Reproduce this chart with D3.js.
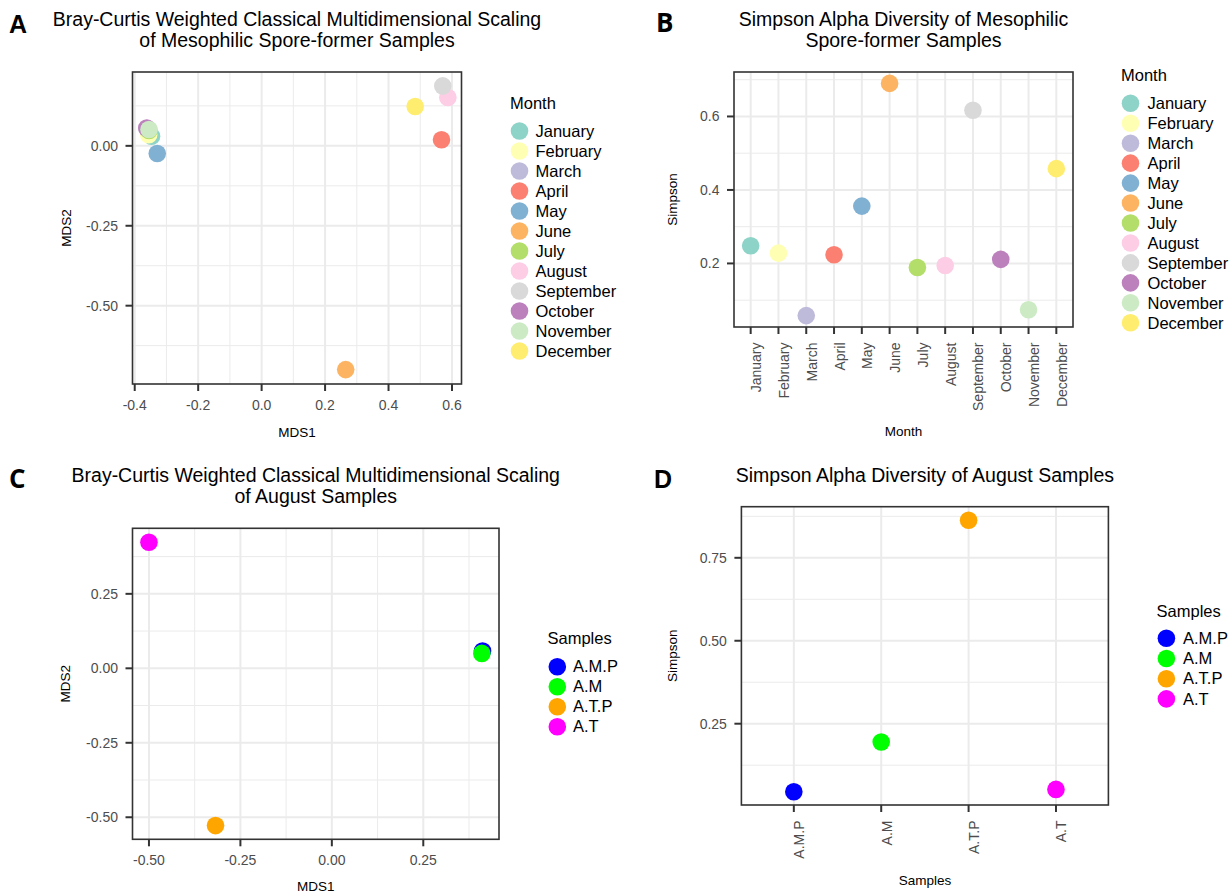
<!DOCTYPE html>
<html><head><meta charset="utf-8">
<script src="https://cdn.jsdelivr.net/npm/d3@7"></script>
<style>
body{margin:0;background:#fff}
svg{display:block}
text{font-family:"Liberation Sans",Arial,Helvetica,sans-serif}
</style>
</head><body>
<svg id="chart" width="1231" height="893"></svg>
<script>
// ---------- DATA ----------
const months = ["January","February","March","April","May","June","July","August","September","October","November","December"];
const monthColors = ["#8DD3C7","#FFFFB3","#BEBADA","#FB8072","#80B1D3","#FDB462","#B3DE69","#FCCDE5","#D9D9D9","#BC80BD","#CCEBC5","#FFED6F"];
const monthMDS1 = [-0.347,-0.356,-0.361,0.567,-0.329,0.265,-0.355,0.587,0.571,-0.362,-0.355,0.484];
const monthMDS2 = [0.030,0.035,0.053,0.019,-0.024,-0.700,0.048,0.151,0.1875,0.056,0.051,0.123];
const monthSimpson = [0.248,0.228,0.058,0.2235,0.356,0.690,0.189,0.1945,0.617,0.211,0.074,0.458];

const samples = ["A.M.P","A.M","A.T.P","A.T"];
const sampleColors = ["#0000FF","#00FF00","#FFA500","#FF00FF"];
const sampleMDS1 = [0.412,0.410,-0.318,-0.500];
const sampleMDS2 = [0.058,0.050,-0.528,0.423];
const sampleSimpson = [0.045,0.195,0.863,0.052];

const aXTicks = [-0.4,-0.2,0.0,0.2,0.4,0.6];
const aXTickLabels = ["-0.4","-0.2","0.0","0.2","0.4","0.6"];
const aYTicks = [-0.5,-0.25,0.0];
const aYTickLabels = ["-0.50","-0.25","0.00"];
const bYTicks = [0.2,0.4,0.6];
const bYTickLabels = ["0.2","0.4","0.6"];
const cXTicks = [-0.5,-0.25,0.0,0.25];
const cXTickLabels = ["-0.50","-0.25","0.00","0.25"];
const cYTicks = [-0.5,-0.25,0.0,0.25];
const cYTickLabels = ["-0.50","-0.25","0.00","0.25"];
const dYTicks = [0.25,0.5,0.75];
const dYTickLabels = ["0.25","0.50","0.75"];

// ---------- DRAW ----------
const svg = d3.select("#chart");
const R = 8.8;
const GRID = "#EBEBEB";
const DARK = "#333333";

function minorsFrom(ticks, domain){
  const step = ticks[1]-ticks[0];
  const lo = Math.min(domain[0],domain[1]), hi = Math.max(domain[0],domain[1]);
  const out = [];
  for (let v = ticks[0] - step/2 - step*10; v <= hi + 1e-9; v += step){
    if (v >= lo && v <= hi) out.push(v);
  }
  return out;
}

function panel(cfg){
  const g = svg.append("g");
  const b = cfg.box;
  const x = cfg.x, y = cfg.y;
  // background
  g.append("rect").attr("x",b.l).attr("y",b.t).attr("width",b.r-b.l).attr("height",b.b-b.t).attr("fill","#fff");
  // minor grid
  if (cfg.xMinor) g.selectAll(null).data(cfg.xMinor).enter().append("line")
    .attr("x1",d=>x(d)).attr("x2",d=>x(d)).attr("y1",b.t).attr("y2",b.b)
    .attr("stroke",GRID).attr("stroke-width",1);
  if (cfg.yMinor) g.selectAll(null).data(cfg.yMinor).enter().append("line")
    .attr("y1",d=>y(d)).attr("y2",d=>y(d)).attr("x1",b.l).attr("x2",b.r)
    .attr("stroke",GRID).attr("stroke-width",1);
  // major grid
  g.selectAll(null).data(cfg.xTicks).enter().append("line")
    .attr("x1",d=>x(d)).attr("x2",d=>x(d)).attr("y1",b.t).attr("y2",b.b)
    .attr("stroke",GRID).attr("stroke-width",2);
  g.selectAll(null).data(cfg.yTicks).enter().append("line")
    .attr("y1",d=>y(d)).attr("y2",d=>y(d)).attr("x1",b.l).attr("x2",b.r)
    .attr("stroke",GRID).attr("stroke-width",2);
  // points
  g.selectAll(null).data(cfg.points).enter().append("circle")
    .attr("cx",d=>x(d.x)).attr("cy",d=>y(d.y)).attr("r",R).attr("fill",d=>d.c);
  // border
  g.append("rect").attr("x",b.l).attr("y",b.t).attr("width",b.r-b.l).attr("height",b.b-b.t)
    .attr("fill","none").attr("stroke",DARK).attr("stroke-width",1.6);
  // ticks
  g.selectAll(null).data(cfg.xTicks).enter().append("line")
    .attr("x1",d=>x(d)).attr("x2",d=>x(d)).attr("y1",b.b).attr("y2",b.b+7)
    .attr("stroke",DARK).attr("stroke-width",2);
  g.selectAll(null).data(cfg.yTicks).enter().append("line")
    .attr("y1",d=>y(d)).attr("y2",d=>y(d)).attr("x1",b.l-7).attr("x2",b.l)
    .attr("stroke",DARK).attr("stroke-width",2);
  // tick labels
  if (cfg.rotateX){
    g.selectAll(null).data(cfg.xTicks).enter().append("text")
      .attr("transform",d=>`translate(${x(d)},${b.b+15.5}) rotate(-90)`)
      .attr("text-anchor","end").attr("dy","0.75em")
      .attr("font-size",14).attr("fill","#4D4D4D")
      .text((d,i)=>cfg.xTickLabels[i]);
  } else {
    g.selectAll(null).data(cfg.xTicks).enter().append("text")
      .attr("x",d=>x(d)).attr("y",b.b+26)
      .attr("text-anchor","middle").attr("font-size",14).attr("fill","#4D4D4D")
      .text((d,i)=>cfg.xTickLabels[i]);
  }
  g.selectAll(null).data(cfg.yTicks).enter().append("text")
    .attr("x",b.l-14.5).attr("y",d=>y(d)).attr("dy","0.36em")
    .attr("text-anchor","end").attr("font-size",14).attr("fill","#4D4D4D")
    .text((d,i)=>cfg.yTickLabels[i]);
  // axis titles
  g.append("text").attr("x",(b.l+b.r)/2).attr("y",cfg.xTitleY)
    .attr("text-anchor","middle").attr("font-size",13.5).attr("fill","#000").text(cfg.xTitle);
  g.append("text").attr("transform",`translate(${cfg.yTitleX},${(b.t+b.b)/2}) rotate(-90)`)
    .attr("dy","0.36em").attr("text-anchor","middle").attr("font-size",13.5).attr("fill","#000").text(cfg.yTitle);
  // plot title
  cfg.title.forEach((t,i)=>{
    g.append("text").attr("x",(b.l+b.r)/2).attr("y",cfg.titleY+i*20.8)
      .attr("text-anchor","middle").attr("font-size",19.5).attr("fill","#000").text(t);
  });
  // panel letter
  g.append("text").attr("x",cfg.letter.x).attr("y",cfg.letter.y)
    .attr("font-size",cfg.letter.size).attr("font-weight","bold")
    .style("font-family",cfg.letter.font).attr("fill","#000").text(cfg.letter.t);
  // legend
  const L = cfg.legend;
  g.append("text").attr("x",L.x).attr("y",L.titleY).attr("font-size",16.5).attr("fill","#000").text(L.title);
  const items = g.selectAll(null).data(L.items).enter().append("g")
    .attr("transform",(d,i)=>`translate(0,${L.y0 + i*L.step})`);
  items.append("circle").attr("cx",L.cx).attr("cy",0).attr("r",R).attr("fill",d=>d.c);
  items.append("text").attr("x",L.tx).attr("y",0).attr("dy","0.35em")
    .attr("font-size",16.5).attr("fill","#000").text(d=>d.label);
}

// Panel A
{
  const box = {l:132.5,r:461.5,t:72,b:384};
  const x = d3.scaleLinear().domain([-0.407,0.630]).range([box.l,box.r]);
  const y = d3.scaleLinear().domain([-0.745,0.231]).range([box.b,box.t]);
  panel({
    box,x,y,
    xTicks:aXTicks,xTickLabels:aXTickLabels,xMinor:minorsFrom(aXTicks,x.domain()),
    yTicks:aYTicks,yTickLabels:aYTickLabels,yMinor:minorsFrom(aYTicks,y.domain()),
    points:months.map((m,i)=>({x:monthMDS1[i],y:monthMDS2[i],c:monthColors[i]})),
    xTitle:"MDS1",xTitleY:437,yTitle:"MDS2",yTitleX:66.5,
    title:["Bray-Curtis Weighted Classical Multidimensional Scaling","of Mesophilic Spore-former Samples"],titleY:26,
    letter:{t:"A",x:9,y:33,size:25,font:"Liberation Sans"},
    legend:{title:"Month",x:510,titleY:109,cx:519.5,tx:535.5,y0:131,step:20,
      items:months.map((m,i)=>({label:m,c:monthColors[i]}))}
  });
}
// Panel B
{
  const box = {l:734,r:1073,t:72,b:327};
  const x = d3.scalePoint().domain(months).range([box.l,box.r]).padding(0.6);
  const y = d3.scaleLinear().domain([0.027,0.721]).range([box.b,box.t]);
  panel({
    box,x,y,
    xTicks:months,xTickLabels:months,xMinor:null,rotateX:true,
    yTicks:bYTicks,yTickLabels:bYTickLabels,yMinor:minorsFrom(bYTicks,y.domain()),
    points:months.map((m,i)=>({x:m,y:monthSimpson[i],c:monthColors[i]})),
    xTitle:"Month",xTitleY:436,yTitle:"Simpson",yTitleX:672,
    title:["Simpson Alpha Diversity of Mesophilic","Spore-former Samples"],titleY:26,
    letter:{t:"B",x:656,y:32,size:26,font:"Open Sans"},
    legend:{title:"Month",x:1121,titleY:81,cx:1130.5,tx:1147.5,y0:103.3,step:19.95,
      items:months.map((m,i)=>({label:m,c:monthColors[i]}))}
  });
}
// Panel C
{
  const box = {l:132.5,r:499,t:528.3,b:839.3};
  const x = d3.scaleLinear().domain([-0.545,0.457]).range([box.l,box.r]);
  const y = d3.scaleLinear().domain([-0.574,0.470]).range([box.b,box.t]);
  panel({
    box,x,y,
    xTicks:cXTicks,xTickLabels:cXTickLabels,xMinor:minorsFrom(cXTicks,x.domain()),
    yTicks:cYTicks,yTickLabels:cYTickLabels,yMinor:minorsFrom(cYTicks,y.domain()),
    points:samples.map((s,i)=>({x:sampleMDS1[i],y:sampleMDS2[i],c:sampleColors[i]})),
    xTitle:"MDS1",xTitleY:891,yTitle:"MDS2",yTitleX:65,
    title:["Bray-Curtis Weighted Classical Multidimensional Scaling","of August Samples"],titleY:481.7,
    letter:{t:"C",x:9,y:488,size:26,font:"Open Sans"},
    legend:{title:"Samples",x:547.5,titleY:644,cx:557.3,tx:573,y0:666.7,step:20,
      items:samples.map((s,i)=>({label:s,c:sampleColors[i]}))}
  });
}
// Panel D
{
  const box = {l:741.4,r:1108.4,t:506.7,b:805};
  const x = d3.scalePoint().domain(samples).range([box.l,box.r]).padding(0.6);
  const y = d3.scaleLinear().domain([0.005,0.904]).range([box.b,box.t]);
  panel({
    box,x,y,
    xTicks:samples,xTickLabels:samples,xMinor:null,rotateX:true,
    yTicks:dYTicks,yTickLabels:dYTickLabels,yMinor:minorsFrom(dYTicks,y.domain()),
    points:samples.map((s,i)=>({x:s,y:sampleSimpson[i],c:sampleColors[i]})),
    xTitle:"Samples",xTitleY:885,yTitle:"Simpson",yTitleX:672,
    title:["Simpson Alpha Diversity of August Samples"],titleY:481.7,
    letter:{t:"D",x:654,y:488,size:25,font:"Liberation Sans"},
    legend:{title:"Samples",x:1156.6,titleY:616.7,cx:1166.4,tx:1183,y0:638.3,step:20.2,
      items:samples.map((s,i)=>({label:s,c:sampleColors[i]}))}
  });
}
</script>
</body></html>
